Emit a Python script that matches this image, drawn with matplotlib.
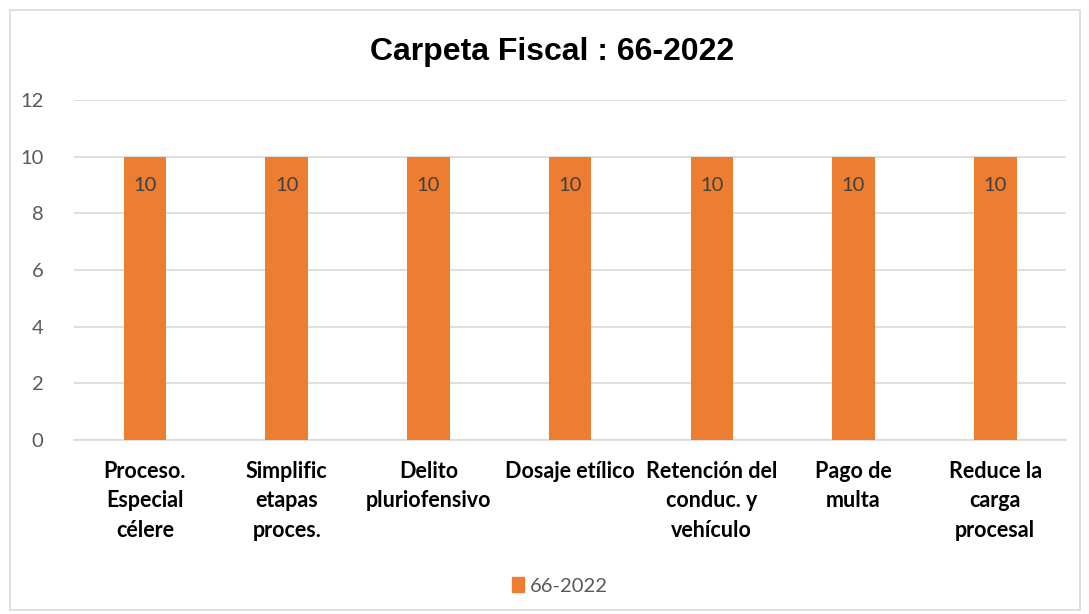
import matplotlib.pyplot as plt
from matplotlib.patches import Rectangle, Patch

categories = ['Proceso.\nEspecial\ncélere', 'Simplific\netapas\nproces.', 'Delito\npluriofensivo',
              'Dosaje etílico', 'Retención del\nconduc. y\nvehículo', 'Pago de\nmulta',
              'Reduce la\ncarga\nprocesal']
values = [10, 10, 10, 10, 10, 10, 10]
series_name = '66-2022'
yticks = [0, 2, 4, 6, 8, 10, 12]

bar_color = '#ED7D31'
grid_color = '#D9D9D9'
label_font = ['Lato', 'DejaVu Sans']

fig = plt.figure(figsize=(10.89, 6.14), dpi=100)
ax = fig.add_axes([0.068, 0.2834, 0.911, 0.5537])

x = range(len(categories))
bars = ax.bar(x, values, width=0.3, color=bar_color, zorder=3)
for b, v in zip(bars, values):
    ax.text(b.get_x() + b.get_width() / 2, v - 1.0, str(v), ha='center', va='center',
            fontsize=14.5, color='#404040', family=label_font, zorder=4)

ax.set_xlim(-0.5, len(categories) - 0.5)
ax.set_ylim(0, 12)
ax.set_yticks(yticks)
ax.set_yticklabels([str(t) for t in yticks], fontsize=14.5, color='#595959', family=label_font)
ax.set_xticks(list(x))
ax.set_xticklabels(categories, fontsize=15.5, fontweight='bold', color='black',
                   family=label_font, linespacing=1.5)
ax.tick_params(axis='both', length=0)
ax.tick_params(axis='x', pad=15)
ax.tick_params(axis='y', pad=22)
ax.yaxis.grid(True, color=grid_color, linewidth=1.2, zorder=0)
for s in ['top', 'right', 'left']:
    ax.spines[s].set_visible(False)
ax.spines['bottom'].set_color(grid_color)
ax.spines['bottom'].set_linewidth(1.2)

fig.text(0.507, 0.916, 'Carpeta Fiscal : 66-2022', ha='center', va='center',
         fontsize=23, fontweight='bold', family='Liberation Sans')

fig.legend(handles=[Patch(color=bar_color, label=series_name)], loc='center',
           bbox_to_anchor=(0.514, 0.046), frameon=False, handlelength=0.6, handleheight=0.8,
           handletextpad=0.3, prop={'family': label_font, 'size': 14.5}, labelcolor='#595959')

fig.patches.append(Rectangle((10 / 1089, 4 / 614), 1070 / 1089, 600 / 614, transform=fig.transFigure,
                             fill=False, edgecolor='#D9D9D9', linewidth=1.2))

plt.savefig('out.png', dpi=100)
